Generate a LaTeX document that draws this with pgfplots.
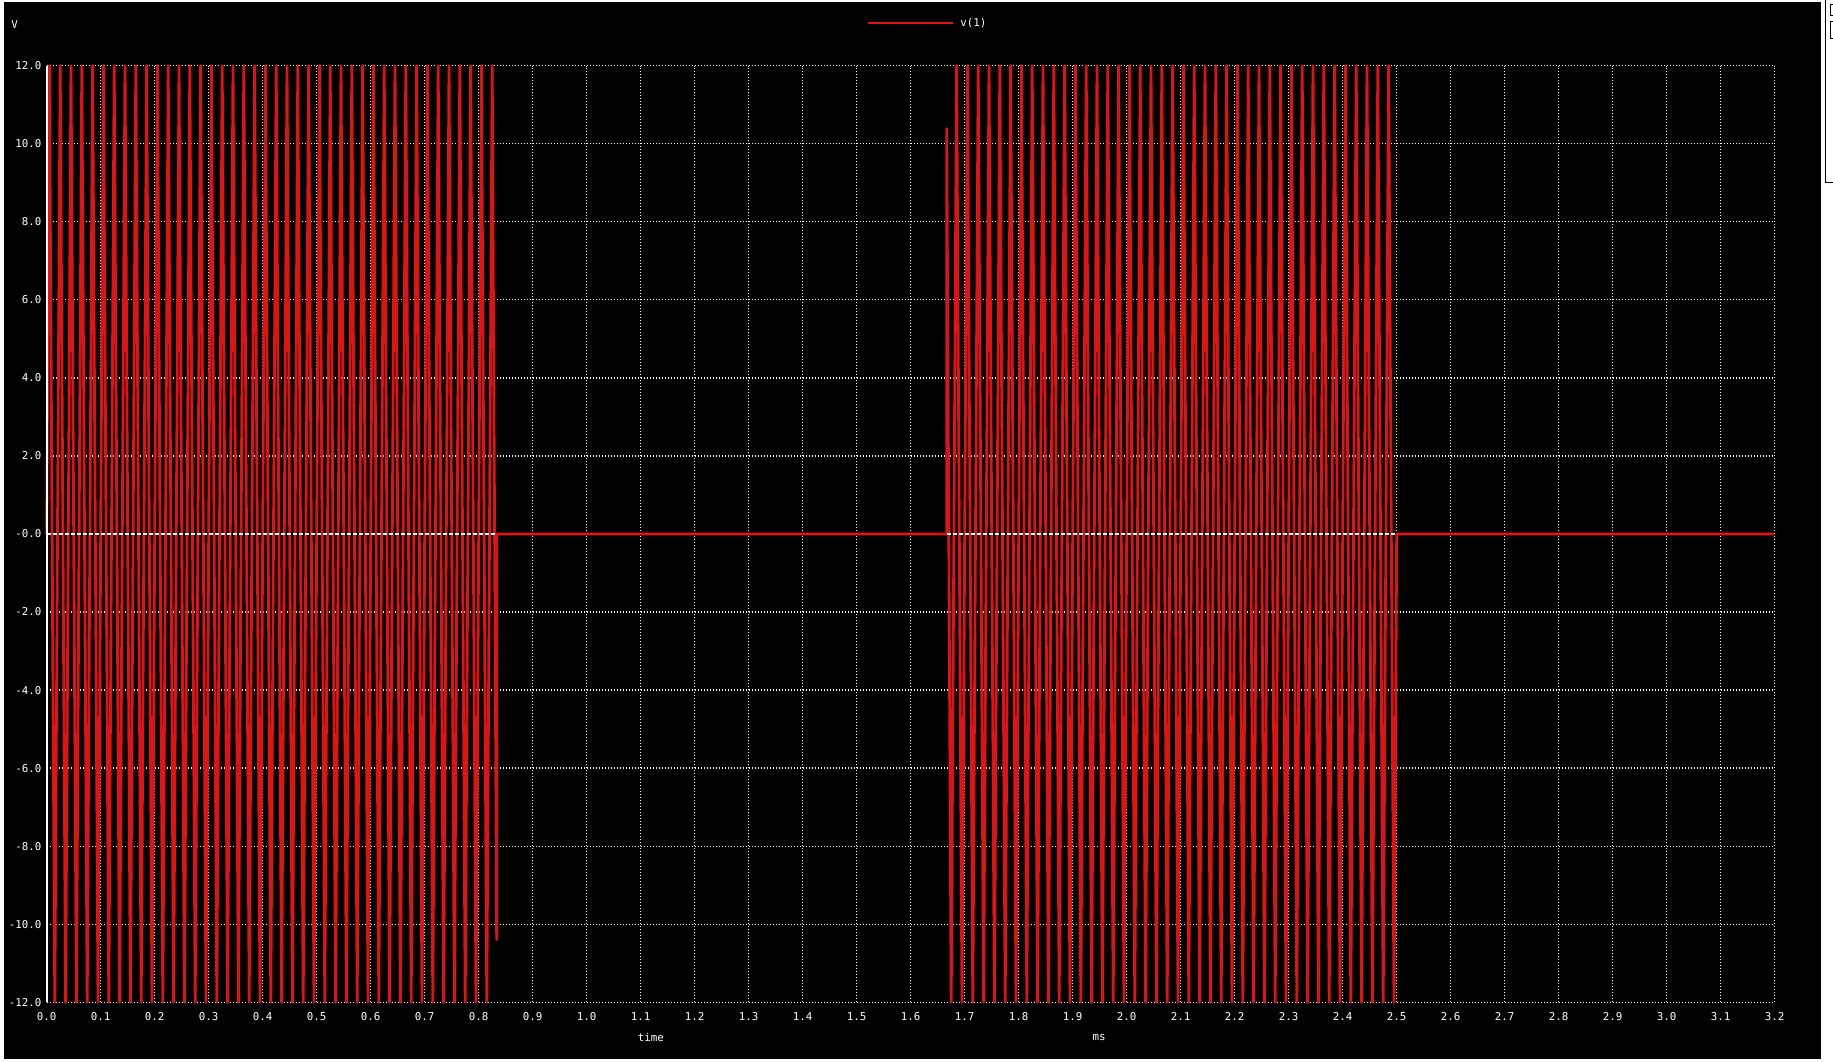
\documentclass[border=0pt]{standalone}
\usepackage{pgfplots}
\pgfplotsset{compat=1.18}
\usepackage{fontspec}
\setmainfont{DejaVu Sans Mono}
\setmonofont{DejaVu Sans Mono}
\definecolor{tracered}{RGB}{222,20,20}
\newcommand{\spicefont}{\fontsize{10.8}{12}\selectfont}
\begin{document}
\begin{tikzpicture}
\useasboundingbox (0pt,0pt) rectangle (1833pt,1062pt);
\fill[white] (0pt,0pt) rectangle (1833pt,1062pt);
\fill[black] (4pt,3pt) rectangle (1821pt,1060pt);
\draw[black, line width=1pt] (1825pt,1062pt) -- (1825pt,879pt) -- (1833pt,879pt);
\draw[black, line width=1pt] (1830.5pt,1057pt) rectangle (1834pt,1046pt);
\draw[black, line width=1pt] (1830.5pt,1040pt) rectangle (1834pt,1023pt);
\begin{axis}[
  at={(46.7pt,59.7pt)}, anchor=south west,
  width=1728pt, height=936.6pt, scale only axis,
  xmin=0, xmax=3.2, ymin=-12, ymax=12,
  axis line style={draw=none},
  major tick length=0pt,
  tick style={draw=none},
  grid=major,
  major grid style={white, line width=1.3pt, dash pattern=on 1.3pt off 1.7pt},
  xtick={0,0.1,0.2,0.3,0.4,0.5,0.6,0.7,0.8,0.9,1.0,1.1,1.2,1.3,1.4,1.5,1.6,1.7,1.8,1.9,2.0,2.1,2.2,2.3,2.4,2.5,2.6,2.7,2.8,2.9,3.0,3.1,3.2},
  xticklabels={0.0,0.1,0.2,0.3,0.4,0.5,0.6,0.7,0.8,0.9,1.0,1.1,1.2,1.3,1.4,1.5,1.6,1.7,1.8,1.9,2.0,2.1,2.2,2.3,2.4,2.5,2.6,2.7,2.8,2.9,3.0,3.1,3.2},
  ytick={-12,-10,-8,-6,-4,-2,0,2,4,6,8,10,12},
  yticklabels={-12.0,-10.0,-8.0,-6.0,-4.0,-2.0,-0.0,2.0,4.0,6.0,8.0,10.0,12.0},
  tick label style={white, font=\spicefont, inner sep=0pt},
  xticklabel style={anchor=north, yshift=-10pt},
  yticklabel style={anchor=east, xshift=-5pt},
  xlabel={time},
  xlabel style={at={(axis description cs:0.3497,-0.0371)}, anchor=center, white, font=\spicefont, inner sep=0pt},
  ylabel={V},
  ylabel style={at={(axis description cs:-0.0186,1.0440)}, anchor=center, rotate=-90, white, font=\spicefont, inner sep=0pt},
  legend style={at={(axis description cs:0.4745,1.0456)}, anchor=west, draw=none, fill=none, text=white, font=\spicefont, inner sep=0pt, nodes={inner sep=0pt, anchor=west}, column sep=6pt},
  legend image code/.code={\draw[tracered, line width=2.5pt] (0pt,0pt) -- (85pt,0pt);},
  clip=false,
]
\addplot[tracered, line width=2.8pt, line join=round] coordinates {
(0,0)
(0.005,12)(0.015,-12)(0.025,12)(0.035,-12)(0.045,12)(0.055,-12)(0.065,12)(0.075,-12)(0.085,12)(0.095,-12)
(0.105,12)(0.115,-12)(0.125,12)(0.135,-12)(0.145,12)(0.155,-12)(0.165,12)(0.175,-12)(0.185,12)(0.195,-12)
(0.205,12)(0.215,-12)(0.225,12)(0.235,-12)(0.245,12)(0.255,-12)(0.265,12)(0.275,-12)(0.285,12)(0.295,-12)
(0.305,12)(0.315,-12)(0.325,12)(0.335,-12)(0.345,12)(0.355,-12)(0.365,12)(0.375,-12)(0.385,12)(0.395,-12)
(0.405,12)(0.415,-12)(0.425,12)(0.435,-12)(0.445,12)(0.455,-12)(0.465,12)(0.475,-12)(0.485,12)(0.495,-12)
(0.505,12)(0.515,-12)(0.525,12)(0.535,-12)(0.545,12)(0.555,-12)(0.565,12)(0.575,-12)(0.585,12)(0.595,-12)
(0.605,12)(0.615,-12)(0.625,12)(0.635,-12)(0.645,12)(0.655,-12)(0.665,12)(0.675,-12)(0.685,12)(0.695,-12)
(0.705,12)(0.715,-12)(0.725,12)(0.735,-12)(0.745,12)(0.755,-12)(0.765,12)(0.775,-12)(0.785,12)(0.795,-12)
(0.805,12)(0.815,-12)(0.825,12)(0.8333,-10.39)(0.8333,0)
(1.6667,0)(1.6667,10.39)
(1.675,-12)(1.685,12)(1.695,-12)
(1.705,12)(1.715,-12)(1.725,12)(1.735,-12)(1.745,12)(1.755,-12)(1.765,12)(1.775,-12)(1.785,12)(1.795,-12)
(1.805,12)(1.815,-12)(1.825,12)(1.835,-12)(1.845,12)(1.855,-12)(1.865,12)(1.875,-12)(1.885,12)(1.895,-12)
(1.905,12)(1.915,-12)(1.925,12)(1.935,-12)(1.945,12)(1.955,-12)(1.965,12)(1.975,-12)(1.985,12)(1.995,-12)
(2.005,12)(2.015,-12)(2.025,12)(2.035,-12)(2.045,12)(2.055,-12)(2.065,12)(2.075,-12)(2.085,12)(2.095,-12)
(2.105,12)(2.115,-12)(2.125,12)(2.135,-12)(2.145,12)(2.155,-12)(2.165,12)(2.175,-12)(2.185,12)(2.195,-12)
(2.205,12)(2.215,-12)(2.225,12)(2.235,-12)(2.245,12)(2.255,-12)(2.265,12)(2.275,-12)(2.285,12)(2.295,-12)
(2.305,12)(2.315,-12)(2.325,12)(2.335,-12)(2.345,12)(2.355,-12)(2.365,12)(2.375,-12)(2.385,12)(2.395,-12)
(2.405,12)(2.415,-12)(2.425,12)(2.435,-12)(2.445,12)(2.455,-12)(2.465,12)(2.475,-12)(2.485,12)(2.495,-12)
(2.5,0)(3.2,0)
};
\addlegendentry{v(1)}
\addplot[white, line width=1.5pt, dash pattern=on 4pt off 2pt, forget plot] coordinates {(0,0)(0.8333,0)};
\addplot[white, line width=1.5pt, dash pattern=on 4pt off 2pt, forget plot] coordinates {(1.6667,0)(2.5,0)};
\draw[white, line width=2pt] (axis cs:0,-12) -- (axis cs:0,12);
\node[white, font=\spicefont, inner sep=0pt, anchor=center] at (axis description cs:0.609,-0.0381) {ms};
\end{axis}
\end{tikzpicture}
\end{document}
